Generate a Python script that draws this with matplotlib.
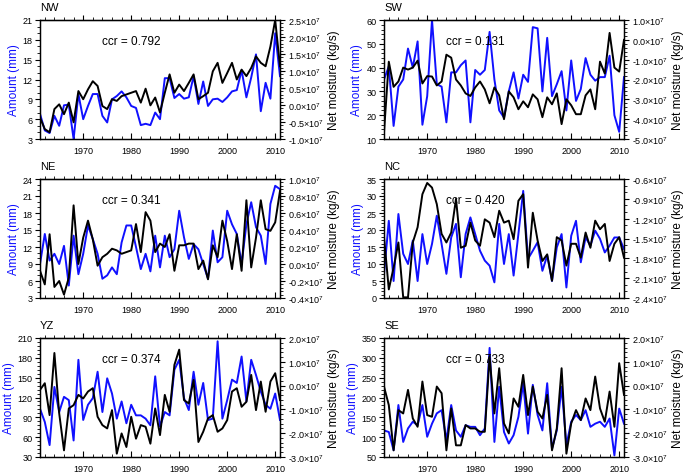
import numpy as np
import matplotlib
matplotlib.use('Agg')
import matplotlib.pyplot as plt
from matplotlib.ticker import MultipleLocator, FixedLocator, FuncFormatter

plt.rcParams['font.family'] = ['Liberation Sans', 'DejaVu Sans']
plt.rcParams['mathtext.fontset'] = 'custom'
plt.rcParams['mathtext.rm'] = 'Liberation Sans'
plt.rcParams['mathtext.it'] = 'Liberation Sans:italic'

years = np.arange(1961, 2012)

# precipitation amount (mm), blue, left axis
nw_amt = [6.8, 4.3, 3.9, 6.5, 5.0, 8.1, 8.2, 3.0, 9.8, 6.0, 8.0, 9.8, 9.8, 6.5, 5.5, 9.0, 9.5, 10.2, 9.3, 8.0,
          7.7, 5.1, 5.3, 5.1, 7.0, 6.0, 12.2, 12.2, 9.2, 9.8, 9.1, 9.3, 12.5, 8.3, 11.7, 8.0, 9.0, 9.1, 8.6, 9.3,
          10.2, 10.4, 13.4, 9.3, 12.3, 15.8, 7.2, 11.5, 9.1, 19.0, 12.5]
sw_amt = [35, 40.5, 15.5, 32, 35, 48, 40, 51, 16, 28, 60, 33, 32, 17, 38, 38, 41, 43, 17, 39,
          37, 39, 55, 35, 22, 19, 30, 38, 27, 37, 34, 57, 56.5, 30, 52.5, 28, 33, 38.5, 22, 43,
          26, 31, 44, 37, 34.5, 36, 36, 45, 20, 13, 36]
ne_amt = [9.0, 14.3, 9.6, 10.8, 9.0, 12.2, 5.2, 14.0, 7.2, 10.8, 15.8, 13.4, 10.8, 6.4, 7.0, 8.4, 7.2, 12.8, 15.8, 15.8,
          12.0, 8.1, 10.8, 7.7, 14.0, 8.4, 14.0, 10.2, 11.6, 18.4, 13.7, 9.9, 12.5, 11.6, 9.0, 6.4, 14.9, 9.3, 10.2, 18.4,
          16.0, 14.3, 9.0, 16.0, 19.9, 15.5, 14.0, 9.0, 19.6, 22.8, 22.2]
nc_amt = [7.0, 22.7, 5.0, 24.7, 13.0, 10.0, 16.9, 5.0, 18.8, 10.0, 15.9, 24.2, 15.9, 7.1, 17.8, 21.8, 6.1, 18.8, 23.7, 18.8,
          13.9, 11.0, 9.5, 4.6, 21.8, 10.0, 18.8, 6.6, 18.8, 31.5, 11.5, 13.9, 16.4, 8.0, 12.5, 5.0, 14.9, 18.8, 3.1, 18.3,
          22.7, 10.5, 17.8, 15.4, 19.8, 17.4, 13.4, 15.4, 17.8, 17.8, 14.4]
yz_amt = [103, 83, 48, 136, 98, 121, 116, 55, 177, 86, 109, 119, 159, 98, 149, 126, 88, 114, 81, 109,
          93, 93, 88, 78, 152, 76, 98, 93, 162, 177, 119, 101, 159, 109, 142, 86, 88, 205, 88, 116,
          147, 142, 182, 114, 177, 154, 129, 109, 103, 126, 86]
se_amt = [117, 113, 67, 181, 88, 122, 139, 130, 181, 101, 134, 160, 168, 92, 181, 117, 101, 130, 126, 126,
          105, 122, 325, 88, 227, 113, 84, 105, 151, 236, 109, 232, 156, 117, 236, 71, 117, 227, 80, 139,
          156, 143, 168, 126, 134, 139, 126, 147, 54, 172, 134]

# net moisture (10^7 kg/s), black, right axis
nw_net = [-0.37, -0.71, -0.80, -0.12, 0.02, -0.27, 0.07, -0.51, 0.41, 0.17, 0.46, 0.70, 0.56, -0.03, -0.12, 0.17, 0.12, 0.26, 0.31, 0.36,
          0.41, 0.07, 0.48, -0.01, 0.22, -0.22, 0.36, 0.90, 0.36, 0.60, 0.41, 0.65, 0.90, 0.17, 0.26, 0.36, 0.99, 1.24, 0.65, 0.94,
          1.24, 0.75, 1.04, 0.85, 1.09, 1.43, 1.24, 1.14, 1.72, 2.50, 1.14]
sw_net = [-4.67, -1.1, -2.37, -2.1, -1.4, -1.5, -1.4, -1.05, -2.2, -1.83, -1.85, -2.3, -2.1, -0.75, -0.9, -2.0, -2.3, -2.7, -2.83, -2.4,
          -2.1, -2.5, -3.2, -2.4, -2.8, -4.0, -2.6, -2.9, -3.5, -3.1, -3.4, -2.75, -3.0, -3.9, -2.9, -3.25, -2.7, -4.25, -3.0, -3.3,
          -3.75, -3.75, -2.8, -2.5, -3.5, -1.1, -1.7, 0.35, -1.4, -1.6, 0.0]
ne_net = [-0.08, -0.24, 0.35, -0.27, -0.20, -0.36, -0.16, 0.69, 0.00, 0.31, 0.51, 0.29, -0.02, 0.08, 0.12, 0.18, 0.16, 0.12, 0.14, 0.16,
          0.47, 0.14, 0.61, 0.51, 0.14, 0.24, 0.20, 0.35, -0.08, 0.22, 0.22, 0.24, 0.24, -0.06, 0.04, -0.18, 0.22, 0.08, 0.51, 0.27,
          -0.06, 0.35, -0.08, 0.75, -0.04, 0.31, 0.75, 0.41, 0.39, 0.49, 0.86]
nc_net = [-1.48, -2.27, -1.94, -1.56, -2.39, -2.39, -1.56, -1.33, -0.83, -0.66, -0.73, -0.98, -1.43, -1.56, -1.41, -0.90, -1.64, -1.61, -1.26, -1.53,
          -1.61, -1.21, -1.26, -1.48, -1.08, -1.26, -1.23, -1.51, -0.93, -0.83, -1.94, -1.11, -1.53, -1.84, -1.74, -2.14, -1.48, -1.53, -1.91, -1.58,
          -1.58, -1.79, -1.41, -1.64, -1.23, -1.36, -1.28, -1.84, -1.58, -1.48, -1.79]
yz_net = [-0.18, 0.10, -1.24, 1.37, -1.17, -2.72, -0.96, -0.82, -0.39, -0.54, -0.25, -0.11, -1.31, -1.66, -1.80, -1.03, -2.86, -2.01, -2.58, -1.31,
          -2.23, -1.66, -1.73, -2.44, -0.96, -2.08, -0.39, -1.10, 0.87, 1.51, -0.61, -0.75, 0.24, -2.37, -1.94, -1.38, -1.24, -1.94, -1.80, -1.45,
          -0.25, -0.11, -0.89, -0.68, 0.45, -1.03, 0.17, -1.10, 0.17, 0.52, -0.61]
se_net = [-0.04, -0.82, -2.72, -1.03, -1.17, -0.18, -1.38, -1.73, 0.17, -1.24, -1.31, -0.04, -0.32, -2.72, -0.96, -2.51, -2.51, -1.66, -1.80, -1.80,
          -1.94, -1.94, 1.23, -1.17, 0.73, -1.59, -2.01, -0.54, -0.89, 0.45, -1.24, -0.04, -1.10, -1.38, -0.39, -2.72, -1.80, 0.73, -2.86, -1.59,
          -1.03, -1.45, -0.54, -1.03, 0.38, -0.96, -1.52, -0.25, -1.73, 0.94, -0.39]

names = ['NW', 'SW', 'NE', 'NC', 'YZ', 'SE']
ccr = ['0.792', '0.131', '0.341', '0.420', '0.374', '0.733']
amounts = [nw_amt, sw_amt, ne_amt, nc_amt, yz_amt, se_amt]
nets = [nw_net, sw_net, ne_net, nc_net, yz_net, se_net]

# (ymin, ymax, major, minor) for left and right axes
left_lims = [(3, 21, 3, 1), (10, 60, 10, 2), (3, 24, 3, 1), (0, 35, 5, 1), (30, 210, 30, 6), (50, 350, 50, 10)]
right_lims = [(-1.0, 2.5, 0.5, 0.1), (-5.0, 1.0, 1.0, 0.2), (-0.4, 1.0, 0.2, 0.04),
              (-2.4, -0.6, 0.3, 0.1), (-3.0, 2.0, 1.0, 0.2), (-3.0, 2.0, 1.0, 0.2)]

lefts = [40 / 685, 384 / 685]
bottoms = [(477 - 140) / 477, (477 - 299) / 477, (477 - 458) / 477]
w, h = 240 / 685, 119 / 477


def net_fmt(v, pos):
    v = round(v, 2) + 0.0
    return '%.1f×10$^{7}$' % v


fig = plt.figure(figsize=(6.85, 4.77), dpi=100)

for i in range(6):
    r, c = divmod(i, 2)
    ax = fig.add_axes([lefts[c], bottoms[r], w, h])
    ax2 = ax.twinx()

    ax.plot(years, amounts[i], color='#1010ff', lw=1.4)
    ax2.plot(years, nets[i], color='black', lw=1.4)

    ax.set_xlim(1961, 2011)
    ax.xaxis.set_major_locator(FixedLocator([1970, 1980, 1990, 2000, 2010]))
    ax.xaxis.set_minor_locator(MultipleLocator(2))
    ax.tick_params(axis='x', which='both', direction='in', labelsize=6.5, pad=5)
    ax.tick_params(axis='x', which='major', length=4, width=0.8)
    ax.tick_params(axis='x', which='minor', length=2.2, width=0.6)

    top = ax.secondary_xaxis('top')
    top.xaxis.set_major_locator(FixedLocator([1970, 1980, 1990, 2000, 2010]))
    top.xaxis.set_minor_locator(MultipleLocator(2))
    top.tick_params(which='both', direction='out', labeltop=False)
    top.tick_params(which='major', length=3.5, width=0.8)
    top.tick_params(which='minor', length=2, width=0.6)

    lo, hi, mj, mn = left_lims[i]
    ax.set_ylim(lo, hi)
    ax.yaxis.set_major_locator(MultipleLocator(mj))
    ax.yaxis.set_minor_locator(MultipleLocator(mn))
    ax.tick_params(axis='y', which='both', direction='out', labelsize=6.5, pad=2)
    ax.tick_params(axis='y', which='major', length=3.5, width=0.8)
    ax.tick_params(axis='y', which='minor', length=2, width=0.6)
    ax.set_ylabel('Amount (mm)', color='#1010ff', fontsize=8.5, labelpad=2)

    lo, hi, mj, mn = right_lims[i]
    ax2.set_ylim(lo, hi)
    ax2.yaxis.set_major_locator(MultipleLocator(mj))
    ax2.yaxis.set_minor_locator(MultipleLocator(mn))
    ax2.yaxis.set_major_formatter(FuncFormatter(net_fmt))
    ax2.tick_params(axis='y', which='both', direction='out', labelsize=6.5, pad=2)
    ax2.tick_params(axis='y', which='major', length=3.5, width=0.8)
    ax2.tick_params(axis='y', which='minor', length=2, width=0.6)
    ax2.set_ylabel('Net moisture (kg/s)', fontsize=8.5, labelpad=3)

    for a in (ax, ax2):
        for s in a.spines.values():
            s.set_linewidth(0.9)

    ax.text(0.0, 1.11, names[i], transform=ax.transAxes, fontsize=8, va='center', ha='left')
    ax.text(0.26, 0.82, 'ccr = ' + ccr[i], transform=ax.transAxes, fontsize=8.5, va='center', ha='left')

fig.savefig('out.png', dpi=100)
